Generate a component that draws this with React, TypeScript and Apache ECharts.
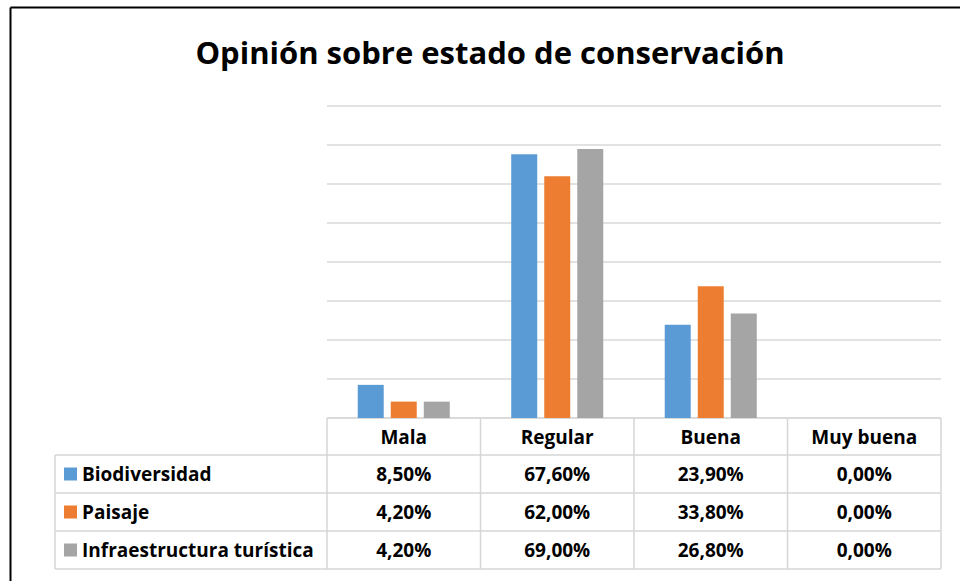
import React, { useEffect, useRef } from "react";
import * as echarts from "echarts";

const categories = ["Mala", "Regular", "Buena", "Muy buena"];
const seriesNames = ["Biodiversidad", "Paisaje", "Infraestructura turística"];
const biodiversidad = [8.5, 67.6, 23.9, 0.0];
const paisaje = [4.2, 62.0, 33.8, 0.0];
const infraestructura = [4.2, 69.0, 26.8, 0.0];
const colors = ["#5b9bd5", "#ed7d31", "#a5a5a5"];

const W = 960;
const H = 581;
const PLOT_L = 327;
const PLOT_R = 941;
const PLOT_T = 106;
const PLOT_B = 418;
const TABLE_L = 55;
const ROWS = [418, 455, 493, 531, 569];
const FONT = "'Open Sans', 'DejaVu Sans', sans-serif";

const fmt = (v: number) => v.toFixed(2).replace(".", ",") + "%";

export default function App() {
  const ref = useRef<HTMLDivElement>(null);
  useEffect(() => {
    if (!ref.current) return;
    const chart = echarts.init(ref.current, null, { renderer: "svg" });
    const data = [biodiversidad, paisaje, infraestructura];
    const colW = (PLOT_R - PLOT_L) / categories.length;
    const lineStyle = { stroke: "#d6d6d6", lineWidth: 1.5 };
    const graphic: any[] = [];
    // outer frame
    graphic.push({ type: "line", shape: { x1: 10.5, y1: 7.5, x2: W, y2: 7.5 }, style: { stroke: "#000", lineWidth: 2 } });
    graphic.push({ type: "line", shape: { x1: 10.5, y1: 7.5, x2: 10.5, y2: H }, style: { stroke: "#000", lineWidth: 2 } });
    // horizontal lines
    graphic.push({ type: "line", shape: { x1: PLOT_L, y1: ROWS[0], x2: PLOT_R, y2: ROWS[0] }, style: lineStyle });
    for (let i = 1; i < ROWS.length; i++) {
      graphic.push({ type: "line", shape: { x1: TABLE_L, y1: ROWS[i], x2: PLOT_R, y2: ROWS[i] }, style: lineStyle });
    }
    // vertical lines
    graphic.push({ type: "line", shape: { x1: TABLE_L, y1: ROWS[1], x2: TABLE_L, y2: ROWS[4] }, style: lineStyle });
    for (let c = 0; c <= categories.length; c++) {
      const x = PLOT_L + c * colW;
      graphic.push({ type: "line", shape: { x1: x, y1: ROWS[0], x2: x, y2: ROWS[4] }, style: lineStyle });
    }
    const cellFont = `bold 19px ${FONT}`;
    // header texts
    categories.forEach((cat, c) => {
      graphic.push({
        type: "text",
        x: PLOT_L + (c + 0.5) * colW,
        y: (ROWS[0] + ROWS[1]) / 2,
        style: { text: cat, fill: "#000", font: cellFont, align: "center", verticalAlign: "middle" },
      });
    });
    // rows
    seriesNames.forEach((name, r) => {
      const yc = (ROWS[r + 1] + ROWS[r + 2]) / 2;
      graphic.push({ type: "rect", shape: { x: 64, y: yc - 6.5, width: 13, height: 13 }, style: { fill: colors[r] } });
      graphic.push({
        type: "text",
        x: 82,
        y: yc,
        style: { text: name, fill: "#000", font: cellFont, align: "left", verticalAlign: "middle" },
      });
      data[r].forEach((v, c) => {
        graphic.push({
          type: "text",
          x: PLOT_L + (c + 0.5) * colW,
          y: yc,
          style: { text: fmt(v), fill: "#000", font: cellFont, align: "center", verticalAlign: "middle" },
        });
      });
    });

    chart.setOption({
      animation: false,
      backgroundColor: "#fff",
      title: {
        text: "Opinión sobre estado de conservación",
        left: 485,
        textAlign: "center",
        top: 31,
        textStyle: { fontFamily: FONT, fontWeight: "bold", fontSize: 31, color: "#000" },
      },
      grid: { left: PLOT_L, right: W - PLOT_R, top: PLOT_T, bottom: H - PLOT_B, containLabel: false },
      xAxis: {
        type: "category",
        data: categories,
        axisLine: { show: false },
        axisTick: { show: false },
        axisLabel: { show: false },
      },
      yAxis: {
        type: "value",
        min: 0,
        max: 80,
        interval: 10,
        axisLabel: { show: false },
        axisLine: { show: false },
        axisTick: { show: false },
        splitLine: { lineStyle: { color: "#d9d9d9", width: 1.5 } },
      },
      series: seriesNames.map((name, i) => ({
        name,
        type: "bar",
        data: data[i],
        barWidth: 26,
        barGap: "27%",
        itemStyle: { color: colors[i] },
      })),
      graphic,
    });
    return () => chart.dispose();
  }, []);
  return <div ref={ref} style={{ position: "fixed", left: 0, top: 0, width: W, height: H }} />;
}
